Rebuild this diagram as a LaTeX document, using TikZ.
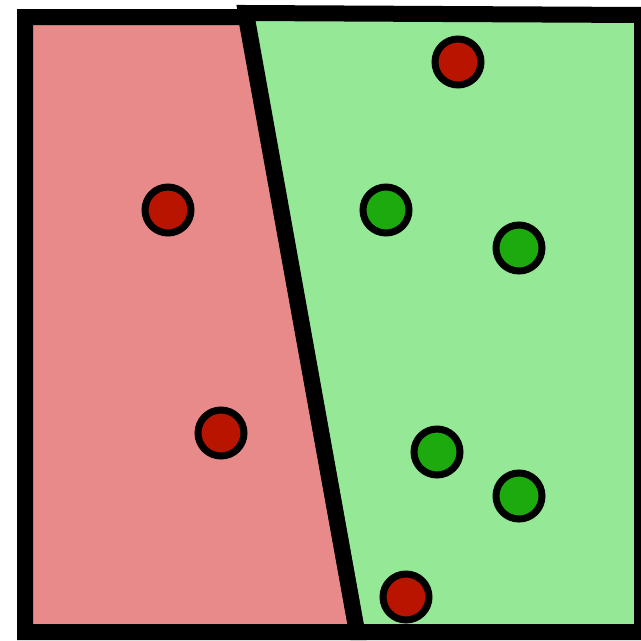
\documentclass[tikz,border=0pt]{standalone}
\usetikzlibrary{calc}
\definecolor{regred}{HTML}{E88A8A}
\definecolor{reggreen}{HTML}{94E896}
\definecolor{ptred}{HTML}{B81400}
\definecolor{ptgreen}{HTML}{1DAA0E}
\begin{document}
\begin{tikzpicture}[x=1pt,y=-1pt,
  region/.style={line width=16pt,draw=black,line join=miter},
  redpt/.style={circle,draw=black,line width=7pt,fill=ptred,minimum size=46pt,inner sep=0pt},
  greenpt/.style={circle,draw=black,line width=7pt,fill=ptgreen,minimum size=46pt,inner sep=0pt}]
\useasboundingbox (0,0) rectangle (641,641);
\coordinate (lt) at (25,17);
\coordinate (dt) at (246,13);
\coordinate (dl) at (246,17);
\coordinate (db) at (357,632);
\coordinate (lb) at (25,632);
\coordinate (rt) at (642,15);
\coordinate (rb) at (642,632);
\fill[regred] (lt) -- (dl) -- (db) -- (lb) -- cycle;
\fill[reggreen] (dt) -- (rt) -- (rb) -- (db) -- cycle;
\draw[region] (lt) -- (dl) -- (db) -- (lb) -- cycle;
\draw[region] (dt) -- (rt) -- (rb) -- (db) -- cycle;
\node[redpt] (r1) at (458,62) {};
\node[redpt] (r2) at (168,210) {};
\node[redpt] (r3) at (221,433) {};
\node[redpt] (r4) at (406,597) {};
\node[greenpt] (g1) at (386,210) {};
\node[greenpt] (g2) at (519,248) {};
\node[greenpt] (g3) at (437,452) {};
\node[greenpt] (g4) at (519,496) {};
\end{tikzpicture}
\end{document}
